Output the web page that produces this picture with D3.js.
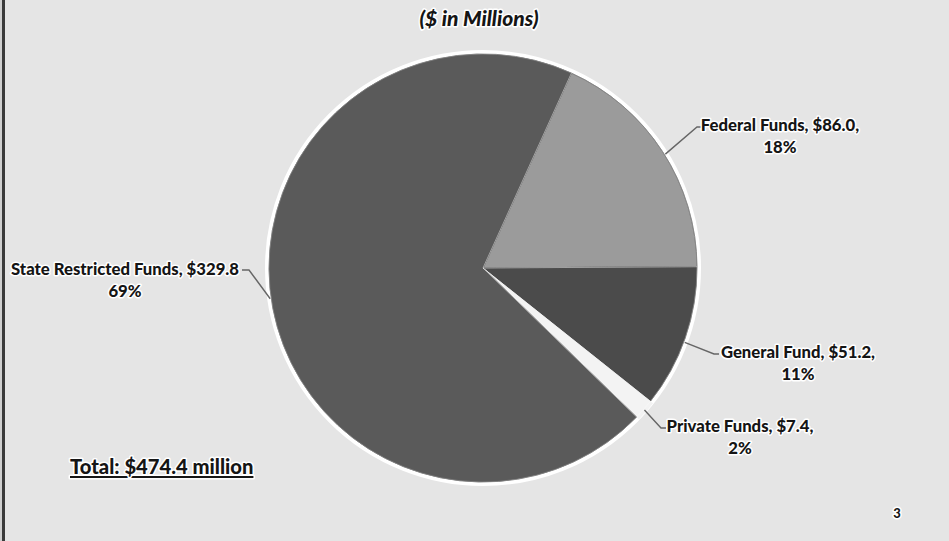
<!DOCTYPE html>
<html><head><meta charset="utf-8">
<script src="https://cdn.jsdelivr.net/npm/d3@7"></script>
<style>
html,body{margin:0;padding:0;background:#e5e5e5;}
svg{display:block;}
text{font-family:Lato,"Open Sans",sans-serif;font-weight:900;fill:#151515;paint-order:stroke;stroke:#ffffff;stroke-width:3px;stroke-linejoin:round;}
</style></head>
<body>
<svg id="c" width="949" height="541"></svg>
<script>
const categories = ["Federal Funds", "General Fund", "Private Funds", "State Restricted Funds"];
const values = [86.0, 51.2, 7.4, 329.8];
const valueLabels = ["$86.0,", "$51.2,", "$7.4,", "$329.8"];
const percentLabels = ["18%", "11%", "2%", "69%"];
const colors = ["#9b9b9b", "#4b4b4b", "#f3f3f3", "#5a5a5a"];
const title = "($ in Millions)";
const totalLabel = "Total: $474.4 million";
const pageNumber = "3";

const W = 949, H = 541;
const svg = d3.select("#c");
svg.append("rect").attr("width", W).attr("height", H).attr("fill", "#e5e5e5");
// scan border
svg.append("rect").attr("x", 2).attr("y", 0).attr("width", 3).attr("height", H).attr("fill", "#3a3a3a");
svg.append("rect").attr("x", 0).attr("y", 0).attr("width", 2).attr("height", H).attr("fill", "#cfcfcf");

const cx = 483, cy = 268, R = 214;
const start = 24.4 * Math.PI / 180;
const pie = d3.pie().sort(null).startAngle(start).endAngle(start + 2 * Math.PI);
const arcs = pie(values);
const arc = d3.arc().innerRadius(0).outerRadius(R);
const g = svg.append("g").attr("transform", `translate(${cx},${cy})`);

// white glow around pie
g.append("circle").attr("r", R + 2).attr("fill", "none").attr("stroke", "#ffffff").attr("stroke-width", 4);

g.selectAll("path.slice").data(arcs).join("path")
  .attr("class", "slice")
  .attr("d", arc)
  .attr("fill", (d, i) => colors[i])
  .attr("stroke", (d, i) => i === 2 ? "#f3f3f3" : "#3c3c3c")
  .attr("stroke-width", 0.8)
  .attr("transform", (d, i) => {
    if (i !== 2) return null;
    const a = (d.startAngle + d.endAngle) / 2;
    return `translate(${3 * Math.sin(a)},${-3 * Math.cos(a)})`;
  });
g.selectAll("path.sep").data(arcs).join("path")
  .attr("class", "sep")
  .attr("d", arc).attr("fill", "none").attr("stroke", "#ffffff").attr("stroke-width", 0.6).attr("opacity", 0.5);

// labels layout
const labelPos = [
  {x: 780, y: 131, line: [[697,127],[701,127]]},
  {x: 798, y: 358, line: [[714,354],[719,354]]},
  {x: 740, y: 432, line: [[661,428],[666,428]]},
  {x: 125, y: 275, line: [[249,270],[242,270]]}
];
function edgePoint(d, frac) {
  const a = d.startAngle + (d.endAngle - d.startAngle) * frac;
  return [cx + (R + 1) * Math.sin(a), cy - (R + 1) * Math.cos(a)];
}
const leaderFrac = [0.515, 0.53, 0.5, 0.51];
arcs.forEach((d, i) => {
  const p = labelPos[i];
  const e = edgePoint(d, leaderFrac[i]);
  const pts = [e, p.line[0], p.line[1]];
  svg.append("path").attr("d", d3.line()(pts)).attr("fill", "none")
    .attr("stroke", "#666666").attr("stroke-width", 1.4);
  const t = svg.append("text").attr("text-anchor", "middle").attr("font-size", 16.7);
  t.append("tspan").attr("x", p.x).attr("y", p.y).text(`${categories[i]}, ${valueLabels[i]}`);
  t.append("tspan").attr("x", p.x).attr("y", p.y + 22).text(percentLabels[i]);
});

svg.append("text").attr("x", 479).attr("y", 26).attr("text-anchor", "middle")
  .attr("font-size", 21).attr("font-style", "italic").text(title);

svg.append("text").attr("x", 70).attr("y", 474).attr("font-size", 20.2)
  .attr("text-decoration", "underline").text(totalLabel);

svg.append("text").attr("x", 897).attr("y", 518).attr("text-anchor", "middle")
  .attr("font-size", 13).text(pageNumber);
</script>
</body></html>
